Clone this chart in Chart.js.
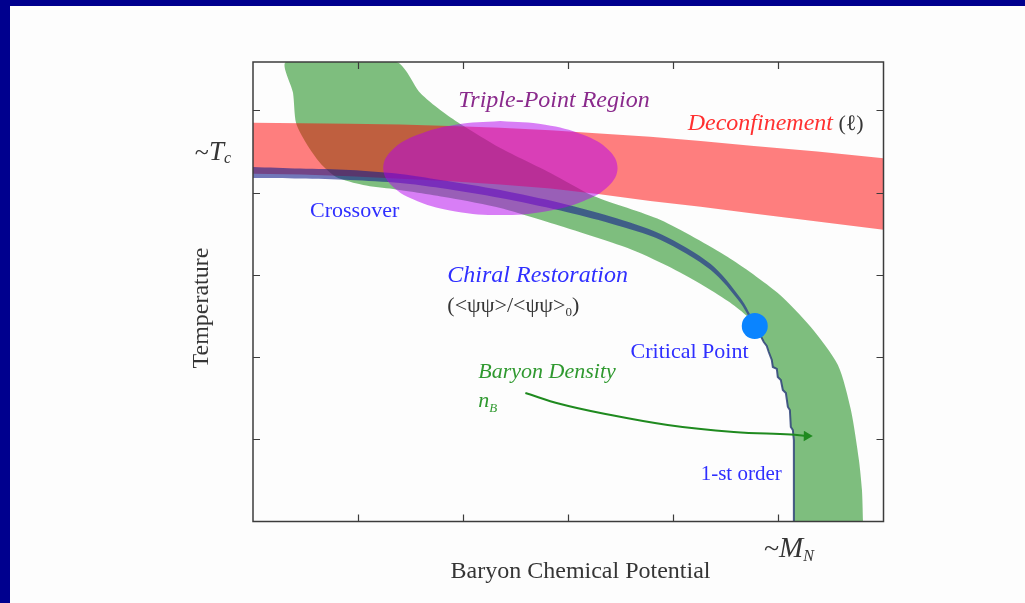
<!DOCTYPE html>
<html>
<head>
<meta charset="utf-8">
<title>QCD phase diagram</title>
<script src="https://cdn.jsdelivr.net/npm/chart.js@4.4.1/dist/chart.umd.min.js"></script>
<style>
  html, body { margin: 0; padding: 0; overflow: hidden; background: #00008e; }
  #panel { position: absolute; left: 10px; top: 6px; width: 1015px; height: 597px; background: #fdfdfd; }
  canvas { display: block; }
</style>
</head>
<body>
<div id="panel"><canvas id="phase" width="1015" height="597"></canvas></div>
<script>
// Axis units: x = baryon chemical potential, y = temperature (arbitrary units)
const X_RANGE = [0, 6];
const Y_RANGE = [0, 5.59];
const xTickValues = [1, 2, 3, 4, 5];
const yTickValues = [1, 2, 3, 4, 5];
const tcLevel = 4.40;   // ~T_c marker on the temperature axis
const mnLevel = 5.10;   // ~M_N marker on the chemical-potential axis

// Deconfinement crossover band (upper edge left->right, lower edge right->left)
const deconfinementBand = [
  [0.00, 4.85], [0.92, 4.84], [1.40, 4.83], [1.88, 4.81], [2.35, 4.79], [2.83, 4.76], [3.30, 4.72],
  [3.78, 4.68], [4.26, 4.63], [4.74, 4.57], [5.37, 4.50], [6.00, 4.42],
  [6.00, 3.55], [5.37, 3.65], [4.74, 3.75], [4.26, 3.83], [3.78, 3.90], [3.30, 3.98], [2.83, 4.05],
  [2.35, 4.10], [1.88, 4.14], [1.40, 4.17], [0.92, 4.20], [0.46, 4.22], [0.00, 4.23]
];

// First-order transition line, from the critical point down to T = 0
const firstOrderLine = [
  [4.775, 2.378], [4.832, 2.257], [4.861, 2.184], [4.889, 2.135], [4.908, 2.062], [4.937, 1.965],
  [4.947, 1.880], [4.985, 1.856], [4.994, 1.758], [5.023, 1.721], [5.042, 1.600], [5.071, 1.563],
  [5.090, 1.393], [5.109, 1.356], [5.118, 1.150], [5.137, 1.113], [5.147, 0.991], [5.147, 0.000]
];

// Chiral band: inner edge (critical point -> top) and outer edge (top -> T = 0)
const chiralInnerEdge = [
  [4.689, 2.512], [4.518, 2.682], [4.260, 2.889], [3.946, 3.108], [3.565, 3.327], [2.926, 3.595],
  [2.354, 3.814], [1.878, 3.936], [1.334, 4.045], [1.048, 4.094], [0.791, 4.191], [0.639, 4.361],
  [0.505, 4.605], [0.410, 4.848], [0.381, 5.213], [0.315, 5.590]
];
const chiralOuterEdge = [
  [1.363, 5.590], [1.592, 5.213], [1.782, 5.006], [1.973, 4.836], [2.354, 4.544], [2.831, 4.240],
  [3.241, 3.960], [3.879, 3.668], [4.518, 3.218], [4.994, 2.780], [5.308, 2.366], [5.566, 1.904],
  [5.690, 1.356], [5.766, 0.748], [5.795, 0.383], [5.805, 0.000]
];

// Chiral crossover line (tapered band: upper edge, then lower edge back)
const crossoverUpper = [
  [0.000, 4.313], [0.448, 4.294], [0.925, 4.276], [1.401, 4.228], [1.782, 4.155], [2.354, 4.033],
  [2.926, 3.875], [3.403, 3.710], [3.879, 3.498], [4.356, 3.133], [4.642, 2.713], [4.775, 2.403]
];
const crossoverLower = [
  [4.775, 2.354], [4.642, 2.652], [4.356, 3.060], [3.879, 3.425], [3.403, 3.625], [2.926, 3.783],
  [2.354, 3.936], [1.782, 4.057], [1.401, 4.118], [0.925, 4.155], [0.448, 4.173], [0.000, 4.179]
];

// Triple-point region outline (starting from its top)
const triplePointRegion = [
  [2.354, 4.872], [1.927, 4.828], [1.566, 4.704], [1.324, 4.519], [1.239, 4.300], [1.324, 4.081],
  [1.566, 3.896], [1.927, 3.772], [2.354, 3.728], [2.781, 3.772], [3.142, 3.896], [3.384, 4.081],
  [3.469, 4.300], [3.384, 4.519], [3.142, 4.704], [2.781, 4.828], [2.354, 4.872]
];

// Increasing baryon density arrow
const densityArrow = [
  [2.592, 1.563], [2.926, 1.429], [3.307, 1.320], [3.946, 1.174], [4.575, 1.089], [5.118, 1.058], [5.245, 1.043]
];
const densityArrowHead = [5.270, 1.040];

const criticalPoint = [4.775, 2.378];

const pts = arr => arr.map(([x, y]) => ({ x, y }));

const chiralBandOutline = [...firstOrderLine].reverse().concat(chiralInnerEdge, chiralOuterEdge);
const crossoverOutline = crossoverUpper.concat(crossoverLower);

const SERIF = '"Liberation Serif", "DejaVu Serif", "Times New Roman", serif';
const font = (size, italic) => (italic ? 'italic ' : '') + size + 'px ' + SERIF;

const BLUE = '#2f2fff';
const GREY = '#353535';
const GREEN_TEXT = '#2f992f';

// Text annotations, anchored (left, baseline) at axis-unit positions
const notes = [
  { x: 1.954, y: 5.043, runs: [{ t: 'Triple-Point Region', font: font(24, true), color: '#8a2a8c' }] },
  { x: 4.137, y: 4.763, runs: [
      { t: 'Deconfinement', font: font(24, true), color: '#ff3030' },
      { t: ' (\u2113)', font: font(22), color: GREY }] },
  { x: 0.543, y: 3.704, runs: [{ t: 'Crossover', font: font(22), color: BLUE }] },
  { x: 1.849, y: 2.914, runs: [{ t: 'Chiral Restoration', font: font(24, true), color: BLUE }] },
  { x: 1.849, y: 2.549, runs: [
      { t: '(<\u03c8\u03c8>/<\u03c8\u03c8>', font: font(22), color: GREY },
      { t: '0', font: font(13), color: GREY, dy: 4 },
      { t: ')', font: font(22), color: GREY }] },
  { x: 3.593, y: 1.989, runs: [{ t: 'Critical Point', font: font(22), color: BLUE }] },
  { x: 2.144, y: 1.746, runs: [{ t: 'Baryon Density', font: font(22, true), color: GREEN_TEXT }] },
  { x: 2.144, y: 1.393, runs: [
      { t: 'n', font: font(22, true), color: GREEN_TEXT },
      { t: 'B', font: font(13, true), color: GREEN_TEXT, dy: 5 }] },
  { x: 4.260, y: 0.505, runs: [{ t: '1-st order', font: font(21), color: BLUE }] }
];

function runsWidth(ctx, runs) {
  let w = 0;
  for (const r of runs) { ctx.font = r.font; w += ctx.measureText(r.t).width; }
  return w;
}
function drawRuns(ctx, x, y, runs) {
  let cx = x;
  for (const r of runs) {
    ctx.font = r.font;
    ctx.fillStyle = r.color;
    ctx.fillText(r.t, cx, y + (r.dy || 0));
    cx += ctx.measureText(r.t).width;
  }
}

const framePlugin = {
  id: 'frameAndText',
  afterDatasetsDraw(chart) {
    const { ctx, chartArea: a, scales: { x, y } } = chart;
    ctx.save();
    ctx.strokeStyle = '#3c3c3c';
    ctx.lineWidth = 1.5;
    ctx.strokeRect(a.left, a.top, a.right - a.left, a.bottom - a.top);
    ctx.lineWidth = 1.2;
    ctx.beginPath();
    for (const v of xTickValues) {
      const px = Math.round(x.getPixelForValue(v)) + 0.5;
      ctx.moveTo(px, a.bottom); ctx.lineTo(px, a.bottom - 7);
      ctx.moveTo(px, a.top); ctx.lineTo(px, a.top + 7);
    }
    for (const v of yTickValues) {
      const py = Math.round(y.getPixelForValue(v)) + 0.5;
      ctx.moveTo(a.left, py); ctx.lineTo(a.left + 7, py);
      ctx.moveTo(a.right, py); ctx.lineTo(a.right - 7, py);
    }
    ctx.stroke();

    ctx.textBaseline = 'alphabetic';
    ctx.textAlign = 'left';
    for (const n of notes) {
      drawRuns(ctx, x.getPixelForValue(n.x), y.getPixelForValue(n.y), n.runs);
    }

    // ~T_c and ~M_N markers
    const tc = [
      { t: '~', font: font(26), color: GREY },
      { t: 'T', font: font(27, true), color: GREY },
      { t: 'c', font: font(16, true), color: GREY, dy: 3 }];
    drawRuns(ctx, a.left - 22 - runsWidth(ctx, tc), y.getPixelForValue(tcLevel), tc);
    const mn = [
      { t: '~', font: font(28), color: GREY },
      { t: 'M', font: font(29, true), color: GREY },
      { t: 'N', font: font(16, true), color: GREY, dy: 4 }];
    drawRuns(ctx, x.getPixelForValue(mnLevel) - runsWidth(ctx, mn) / 2, a.bottom + 35, mn);

    // Axis titles
    ctx.font = font(24);
    ctx.fillStyle = GREY;
    ctx.textAlign = 'center';
    ctx.fillText('Baryon Chemical Potential', x.getPixelForValue(3.117), a.bottom + 56);
    ctx.save();
    ctx.translate(a.left - 45, y.getPixelForValue(2.597));
    ctx.rotate(-Math.PI / 2);
    ctx.fillText('Temperature', 0, 0);
    ctx.restore();
    ctx.restore();
  }
};

const shape = (data, color, order, tension) => ({
  data: pts(data), backgroundColor: color, borderWidth: 0, fill: 'shape',
  pointRadius: 0, tension, order
});

new Chart(document.getElementById('phase'), {
  type: 'line',
  data: {
    datasets: [
      { data: pts([criticalPoint]), showLine: false, pointRadius: 13, pointBackgroundColor: '#0a84ff',
        pointBorderWidth: 0, order: 1 },
      { data: pts([densityArrowHead]), showLine: false, pointStyle: 'triangle', pointRadius: 6,
        pointRotation: 91, pointBackgroundColor: '#1f8a1f', pointBorderWidth: 0, order: 2 },
      { data: pts(densityArrow), borderColor: '#1f8a1f', borderWidth: 2, pointRadius: 0, tension: 0.4,
        fill: false, order: 3 },
      { data: pts(firstOrderLine), borderColor: 'rgba(45,65,120,0.85)', borderWidth: 2, pointRadius: 0,
        tension: 0, fill: false, order: 4 },
      shape(triplePointRegion, 'rgba(180,0,240,0.5)', 5, 0.4),
      shape(crossoverOutline, 'rgba(20,30,140,0.6)', 6, 0.3),
      shape(deconfinementBand, 'rgba(255,0,0,0.5)', 7, 0),
      shape(chiralBandOutline, 'rgba(0,128,0,0.5)', 8, 0.25)
    ]
  },
  options: {
    responsive: false,
    animation: false,
    events: [],
    layout: { padding: { left: 243, top: 56, right: 141.5, bottom: 81.5 } },
    plugins: { legend: { display: false }, tooltip: { enabled: false } },
    scales: {
      x: { type: 'linear', min: X_RANGE[0], max: X_RANGE[1], display: false },
      y: { type: 'linear', min: Y_RANGE[0], max: Y_RANGE[1], display: false }
    }
  },
  plugins: [framePlugin]
});
</script>
</body>
</html>
